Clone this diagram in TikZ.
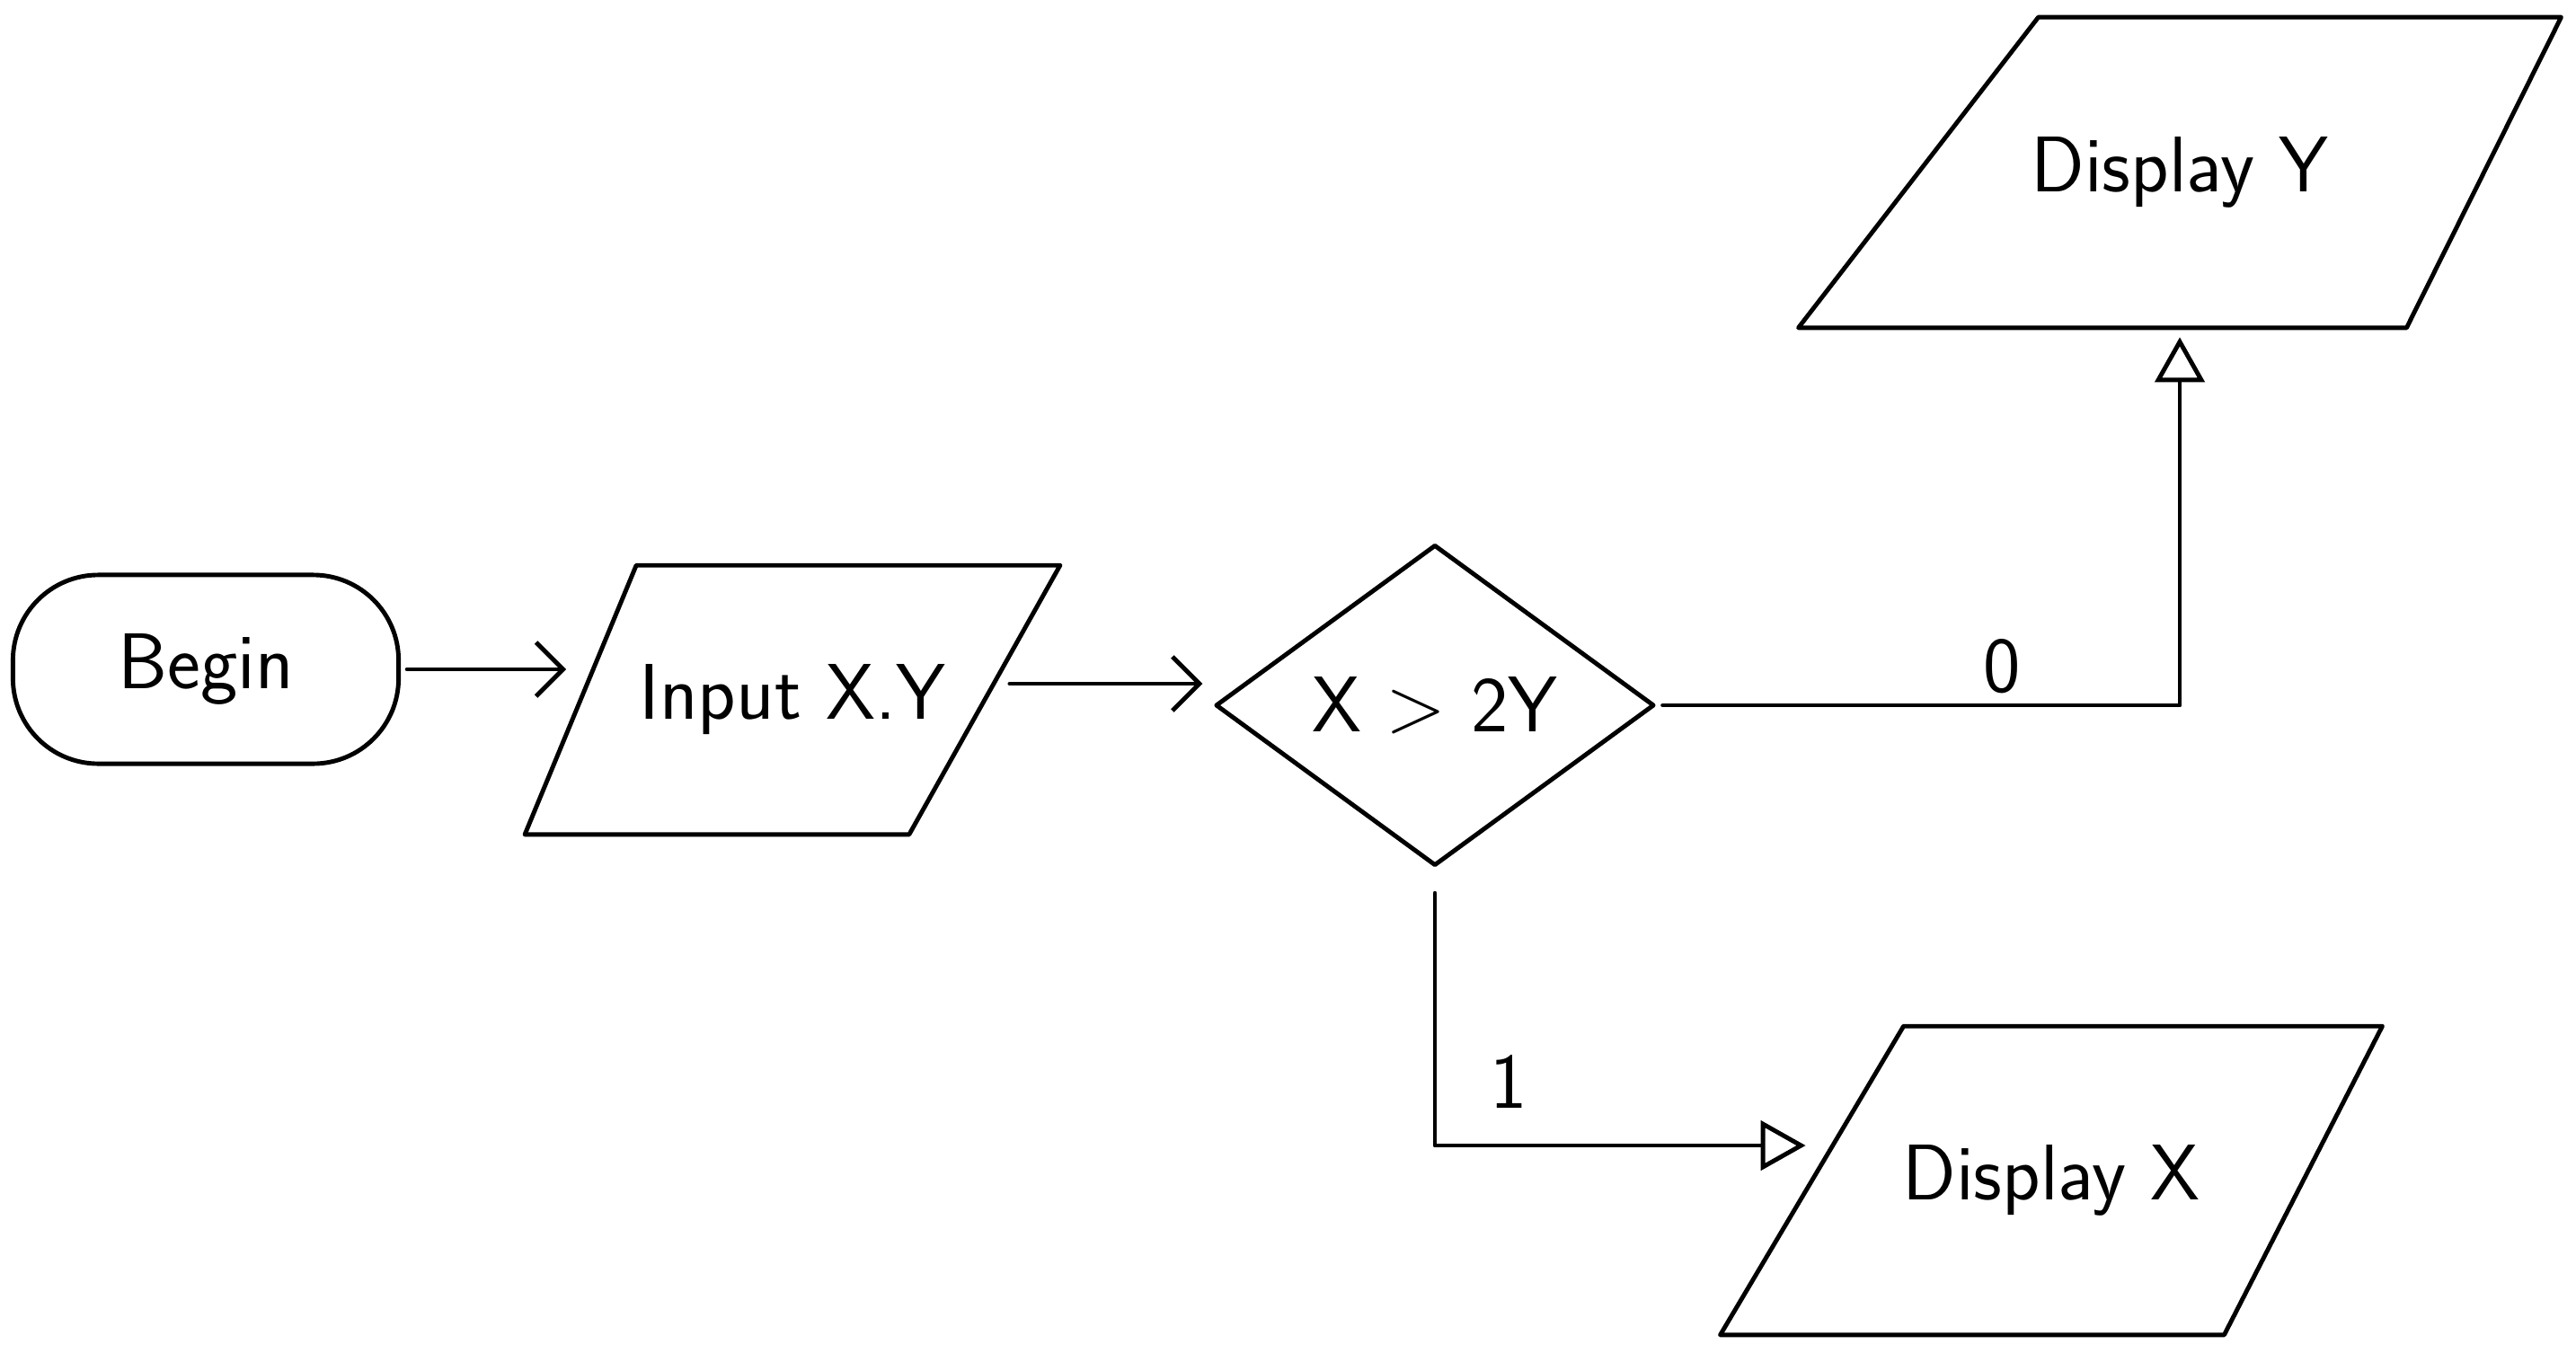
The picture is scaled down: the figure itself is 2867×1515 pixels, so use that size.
\documentclass[tikz,border=0pt]{standalone}
\usetikzlibrary{arrows.meta,shapes.geometric,calc}
% outline of a slanted input/output box around an invisible rectangle node:
% #1 node name, #2 shift of the top-left corner, #3 shift of the bottom-right corner
\newcommand{\slantframe}[3]{%
  \draw[ln] ($(#1.north west)+(#2,0)$) -- (#1.north east)
    -- ($(#1.south east)-(#3,0)$) -- (#1.south west) -- cycle;}
\begin{document}
\begin{tikzpicture}[x=0.01cm,y=-0.01cm,
  every node/.style={font=\sffamily\fontsize{25}{30}\selectfont},
  ln/.style={line width=1.4pt, line cap=round, line join=round},
  startbox/.style={ln, draw, rectangle, rounded corners=0.95cm, minimum width=4.29cm, minimum height=2.1cm},
  ioarea/.style={rectangle, inner sep=0pt},
  testbox/.style={ln, draw, diamond, minimum width=4.88cm, minimum height=3.57cm, inner sep=0pt},
  barb/.style={ln, -{Straight Barb[length=0.3cm,width=0.6cm,line width=1.4pt]}},
  tri/.style={ln, -{Triangle[open,length=0.5cm,width=0.55cm,line width=1.4pt]}},
  lbl/.style={inner sep=3pt}]
  % page frame
  \path[use as bounding box] (0,0) rectangle (2867,1515);
  \fill[white] (0,0) rectangle (2867,1515);

  % blocks
  \node[startbox] (begin) at (229,745) {Begin};
  \node[ioarea, minimum width=5.94cm, minimum height=2.98cm] (inp) at (882,779) {Input X.Y};
  \slantframe{inp}{124}{168}
  \node[testbox] (test) at (1597,785) {X > 2Y};
  \node[ioarea, minimum width=8.47cm, minimum height=3.44cm] (showy) at (2426,192) {Display Y};
  \slantframe{showy}{267}{172}
  \node[ioarea, minimum width=7.35cm, minimum height=3.42cm] (showx) at (2283,1314) {Display X};
  \slantframe{showx}{204}{176}

  % ends of the connectors next to the slanted sides
  \coordinate (inpin)  at ($(begin.east -| inp.west)+(46,0)$);
  \coordinate (inpout) at ($(inp.east)+(-56,-18)$);
  \coordinate (testin) at ($(inpout -| test.west)+(-12,0)$);
  \coordinate (xin)    at ($(showx.west)+(95,-39)$);

  % flow
  \draw[barb, shorten <=2pt] (begin.east) -- (inpin);
  \draw[barb] (inpout) -- (testin);
  \draw[tri, shorten <=2pt, shorten >=3pt] (test.east) -| node[lbl, pos=0.33, above] {0} (showy.south);
  \draw[tri, shorten <=8pt] (test.south) |- node[lbl, pos=0.6, above=8pt] {1} (xin);
\end{tikzpicture}
\end{document}
